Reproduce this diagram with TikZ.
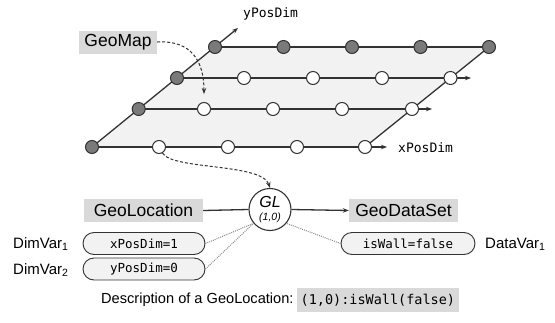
\documentclass[tikz,border=0pt]{standalone}
\usepackage{fontspec}
\setmainfont{Liberation Sans}
\setmonofont{DejaVu Sans Mono}
\usetikzlibrary{arrows.meta,shapes.misc}
\pgfdeclarelayer{background}
\pgfsetlayers{background,main}

\definecolor{ink}{HTML}{333333}
\definecolor{dotgray}{HTML}{7A7A7A}
\definecolor{boxgray}{HTML}{D9D9D9}
\definecolor{paper}{HTML}{F2F2F2}
\definecolor{linkgray}{HTML}{8C8C8C}

\begin{document}
\begin{tikzpicture}[x=1pt,y=-1pt,
  arr/.style={-{Stealth[length=6pt,width=4.5pt]}},
  gdot/.style={circle,draw=ink,fill=dotgray,line width=1pt,minimum size=13pt,inner sep=0pt},
  wdot/.style={gdot,fill=white},
  gridline/.style={draw=ink,line width=1.3pt},
  tagbox/.style={fill=boxgray,inner sep=0pt,minimum height=23pt,font=\fontsize{17.5}{20}\selectfont},
  pill/.style={rounded rectangle,draw=ink,fill=paper,line width=0.9pt,inner sep=0pt,
    minimum height=22pt,font=\ttfamily\fontsize{12.5}{14}\selectfont},
  axislabel/.style={anchor=west,inner sep=0pt,font=\ttfamily\fontsize{13}{15}\selectfont},
  plain/.style={anchor=west,inner sep=0pt,font=\fontsize{15}{17}\selectfont},
  link/.style={draw=linkgray,line width=1pt,dash pattern=on 1pt off 1pt},
  hint/.style={draw=ink,line width=1pt,dash pattern=on 3pt off 2pt,arr}]
\useasboundingbox (0,0) rectangle (555,322);

% ---- grid of map positions ----
\node[gdot] (a1) at (92,147) {};
\node[wdot] (a2) at (159,147) {};
\node[wdot] (a3) at (228,147) {};
\node[wdot] (a4) at (297,147) {};
\node[wdot] (a5) at (365,147) {};

\node[gdot] (b1) at (138.7,109) {};
\node[wdot] (b2) at (204,109) {};
\node[wdot] (b3) at (273,109) {};
\node[wdot] (b4) at (342,109) {};
\node[wdot] (b5) at (412,109) {};

\node[gdot] (c1) at (177,78) {};
\node[wdot] (c2) at (244,78) {};
\node[wdot] (c3) at (313,78) {};
\node[wdot] (c4) at (382,78) {};
\node[wdot] (c5) at (450.5,78) {};

\node[gdot] (d1) at (215,47) {};
\node[gdot] (d2) at (283.5,47) {};
\node[gdot] (d3) at (352,47) {};
\node[gdot] (d4) at (420.5,47) {};
\node[gdot] (d5) at (489,47) {};

\coordinate (aend) at (387,147);
\coordinate (bend) at (432,109);
\coordinate (cend) at (471,78);
\coordinate (yend) at (238,28);

\begin{pgfonlayer}{background}
  \fill[paper] (a1.center) -- (a5.center) -- (d5.center) -- (d1.center) -- cycle;
  \draw[gridline,arr] (a1.center) -- (aend);
  \draw[gridline,arr] (b1.center) -- (bend);
  \draw[gridline,arr] (c1.center) -- (cend);
  \draw[gridline] (d1.center) -- (d5.center);
  \draw[gridline,arr] (a1.center) -- (yend);
  \draw[gridline] (a5.center) -- (d5.center);
\end{pgfonlayer}

\node[axislabel] (ylab) at (243,14) {yPosDim};
\node[axislabel] (xlab) at (398,148) {xPosDim};

\node[tagbox,minimum width=78pt] (geomap) at (118,42) {GeoMap};
\draw[hint,shorten >=8pt] (geomap.east) .. controls (192,40) and (204,62) .. (b2.north);

% ---- one location and its variables ----
\node[circle,draw=ink,fill=white,line width=1.1pt,minimum size=42pt,inner sep=0pt] (gl) at (270,209.5) {};
\node[inner sep=0pt,font=\itshape\fontsize{16}{18}\selectfont] (glname) at (270,202) {GL};
\node[inner sep=0pt,font=\itshape\fontsize{10.5}{12}\selectfont] (glpos) at (270,217.5) {(1,0)};

\draw[hint] (a2.-60) .. controls (172,170) and (262,163) .. (gl.north);

\node[tagbox,minimum width=119pt] (geoloc) at (143.5,210.5) {GeoLocation};
\node[tagbox,minimum width=109pt] (geodata) at (403.5,210.5) {GeoDataSet};
\draw[ink,line width=1.3pt] (geoloc.east) -- (gl.west);
\draw[ink,line width=1.3pt,arr] (gl.east) -- (geodata.west);

\node[pill,minimum width=122pt] (xdim) at (144,243.5) {xPosDim=1};
\node[pill,minimum width=122pt] (ydim) at (144,269) {yPosDim=0};
\node[pill,minimum width=134pt] (wall) at (408,243.5) {isWall=false};

\draw[link] (xdim.east) -- (gl.220);
\draw[link] (ydim.east) -- (gl.220);
\draw[link] (wall.west) -- (gl.-40);

\node[plain] (dv1) at (13,244) {DimVar\textsubscript{1}};
\node[plain] (dv2) at (13,270) {DimVar\textsubscript{2}};
\node[plain] (dav1) at (485,244) {DataVar\textsubscript{1}};

% ---- textual form ----
\node[plain,font=\fontsize{14.6}{17}\selectfont] (desc) at (101,300) {Description of a GeoLocation:};
\node[anchor=west,fill=boxgray,inner xsep=3.5pt,inner ysep=0pt,minimum height=24pt,
  font=\ttfamily\fontsize{13.5}{15}\selectfont] (code) at (297,300) {(1,0):isWall(false)};
\end{tikzpicture}
\end{document}
